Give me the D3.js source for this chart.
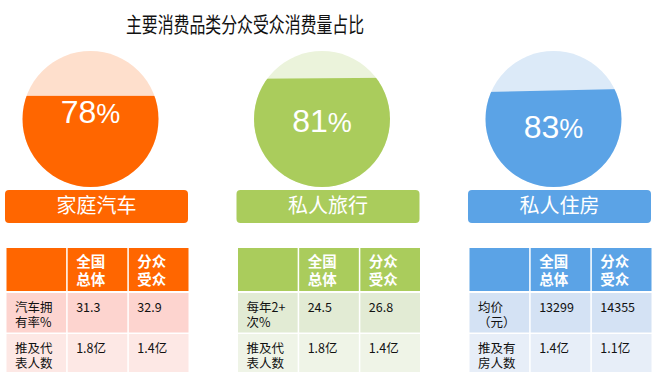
<!DOCTYPE html>
<html>
<head>
<meta charset="utf-8">
<script src="https://cdn.jsdelivr.net/npm/d3@7"></script>
<style>
  html, body { margin: 0; padding: 0; background: #fff; }
  svg { display: block; }
</style>
</head>
<body>
<div id="chart"></div>
<script>
// data
var categories = ["家庭汽车", "私人旅行", "私人住房"];
var percentages = [78, 81, 83];
// visible water level of each circle (fraction of height)
var fillLevels = [0.67, 0.80, 0.71];
var colHeaders = [["全国", "总体"], ["分众", "受众"]];
var metricLabels = [
    [["汽车拥", "有率%"], ["推及代", "表人数"]],
    [["每年2+", "次%"], ["推及代", "表人数"]],
    [["均价", "（元）"], ["推及有", "房人数"]]
];
var nationalValues = [["31.3", "1.8亿"], ["24.5", "1.8亿"], ["13299", "1.4亿"]];
var segmentValues = [["32.9", "1.4亿"], ["26.8", "1.4亿"], ["14355", "1.1亿"]];

var colors = [
    { main: "#ff6600", light: "#fedfcc", row1: "#fdd4cf", row2: "#fde8e5" },
    { main: "#aacc5c", light: "#ebf3db", row1: "#e2ebd4", row2: "#eff4e7" },
    { main: "#5ba3e6", light: "#dceaf8", row1: "#d4e2f4", row2: "#e7eef8" }
];

var width = 666, height = 386;
var cjk = "'Noto Sans CJK SC', 'Noto Sans', sans-serif";

var svg = d3.select("#chart").append("svg")
    .attr("width", width)
    .attr("height", height);

svg.append("text")
    .attr("x", 245)
    .attr("y", 32)
    .attr("text-anchor", "middle")
    .attr("textLength", 238)
    .attr("lengthAdjust", "spacingAndGlyphs")
    .style("font-family", cjk)
    .style("font-size", "21px")
    .style("fill", "#111")
    .text("主要消费品类分众受众消费量占比");

var x = d3.scaleBand()
    .domain(categories)
    .range([5, 651])
    .paddingInner(0.2095);

var r = 68, cy = 119;
var level = d3.scaleLinear().domain([0, 1]).range([cy + r, cy - r]);
var tilt = [0, -0.4, -1.3];
var textDy = [3.5, 13, 19];

var panel = svg.selectAll(".panel")
    .data(categories)
    .enter().append("g")
    .attr("class", "panel")
    .attr("transform", function(d) { return "translate(" + x(d) + ",0)"; });

// circles
panel.each(function(d, i) {
    var g = d3.select(this);
    var cx = 85.5;
    var clipId = "clip" + i;
    g.append("clipPath").attr("id", clipId)
        .append("circle").attr("cx", cx).attr("cy", cy).attr("r", r);

    var c = g.append("g").attr("clip-path", "url(#" + clipId + ")");
    c.append("rect")
        .attr("x", cx - r).attr("y", cy - r)
        .attr("width", 2 * r).attr("height", 2 * r)
        .style("fill", colors[i].light);
    c.append("rect")
        .attr("x", cx - r - 10).attr("y", level(fillLevels[i]))
        .attr("width", 2 * r + 20).attr("height", 2 * r + 20)
        .attr("transform", "rotate(" + tilt[i] + "," + cx + "," + level(fillLevels[i]) + ")")
        .style("fill", colors[i].main);

    var t = g.append("text")
        .attr("x", cx)
        .attr("y", cy + textDy[i])
        .attr("text-anchor", "middle")
        .style("font-family", "'Liberation Sans', Arial, sans-serif")
        .style("font-size", "32px")
        .style("fill", "#fff");
    t.append("tspan").text(percentages[i]);
    t.append("tspan").style("font-size", "27px").text("%");
});

// category label bars
panel.append("rect")
    .attr("x", 0)
    .attr("y", 190)
    .attr("width", x.bandwidth())
    .attr("height", 33)
    .attr("rx", 4)
    .style("fill", function(d, i) { return colors[i].main; });

panel.append("text")
    .attr("x", x.bandwidth() / 2)
    .attr("y", 213)
    .attr("text-anchor", "middle")
    .style("font-family", cjk)
    .style("font-size", "20px")
    .style("fill", "#fff")
    .text(function(d) { return d; });

// tables
var col = d3.scaleBand().domain([0, 1, 2]).range([1.5, 183.5]).paddingInner(0.025);
var rowTop = [248, 293, 334];
var rowH = [43, 39.5, 38];

panel.each(function(d, i) {
    var g = d3.select(this);
    var rows = [
        { fill: colors[i].main, cells: [[], colHeaders[0], colHeaders[1]], head: true },
        { fill: colors[i].row1, cells: [metricLabels[i][0], [nationalValues[i][0]], [segmentValues[i][0]]] },
        { fill: colors[i].row2, cells: [metricLabels[i][1], [nationalValues[i][1]], [segmentValues[i][1]]] }
    ];
    rows.forEach(function(row, ri) {
        row.cells.forEach(function(lines, ci) {
            g.append("rect")
                .attr("x", col(ci))
                .attr("y", rowTop[ri])
                .attr("width", col.bandwidth())
                .attr("height", rowH[ri])
                .style("fill", row.fill);
            lines.forEach(function(s, li) {
                g.append("text")
                    .attr("x", col(ci) + 8.5)
                    .attr("y", rowTop[ri] + (row.head ? 18.5 + li * 18.5 : 18.5 + li * 15.5))
                    .style("font-family", cjk)
                    .style("font-size", row.head ? "14.5px" : "12.5px")
                    .style("font-weight", row.head ? "bold" : "normal")
                    .style("fill", row.head ? "#fff" : "#111")
                    .text(s);
            });
        });
    });
});
</script>
</body>
</html>
